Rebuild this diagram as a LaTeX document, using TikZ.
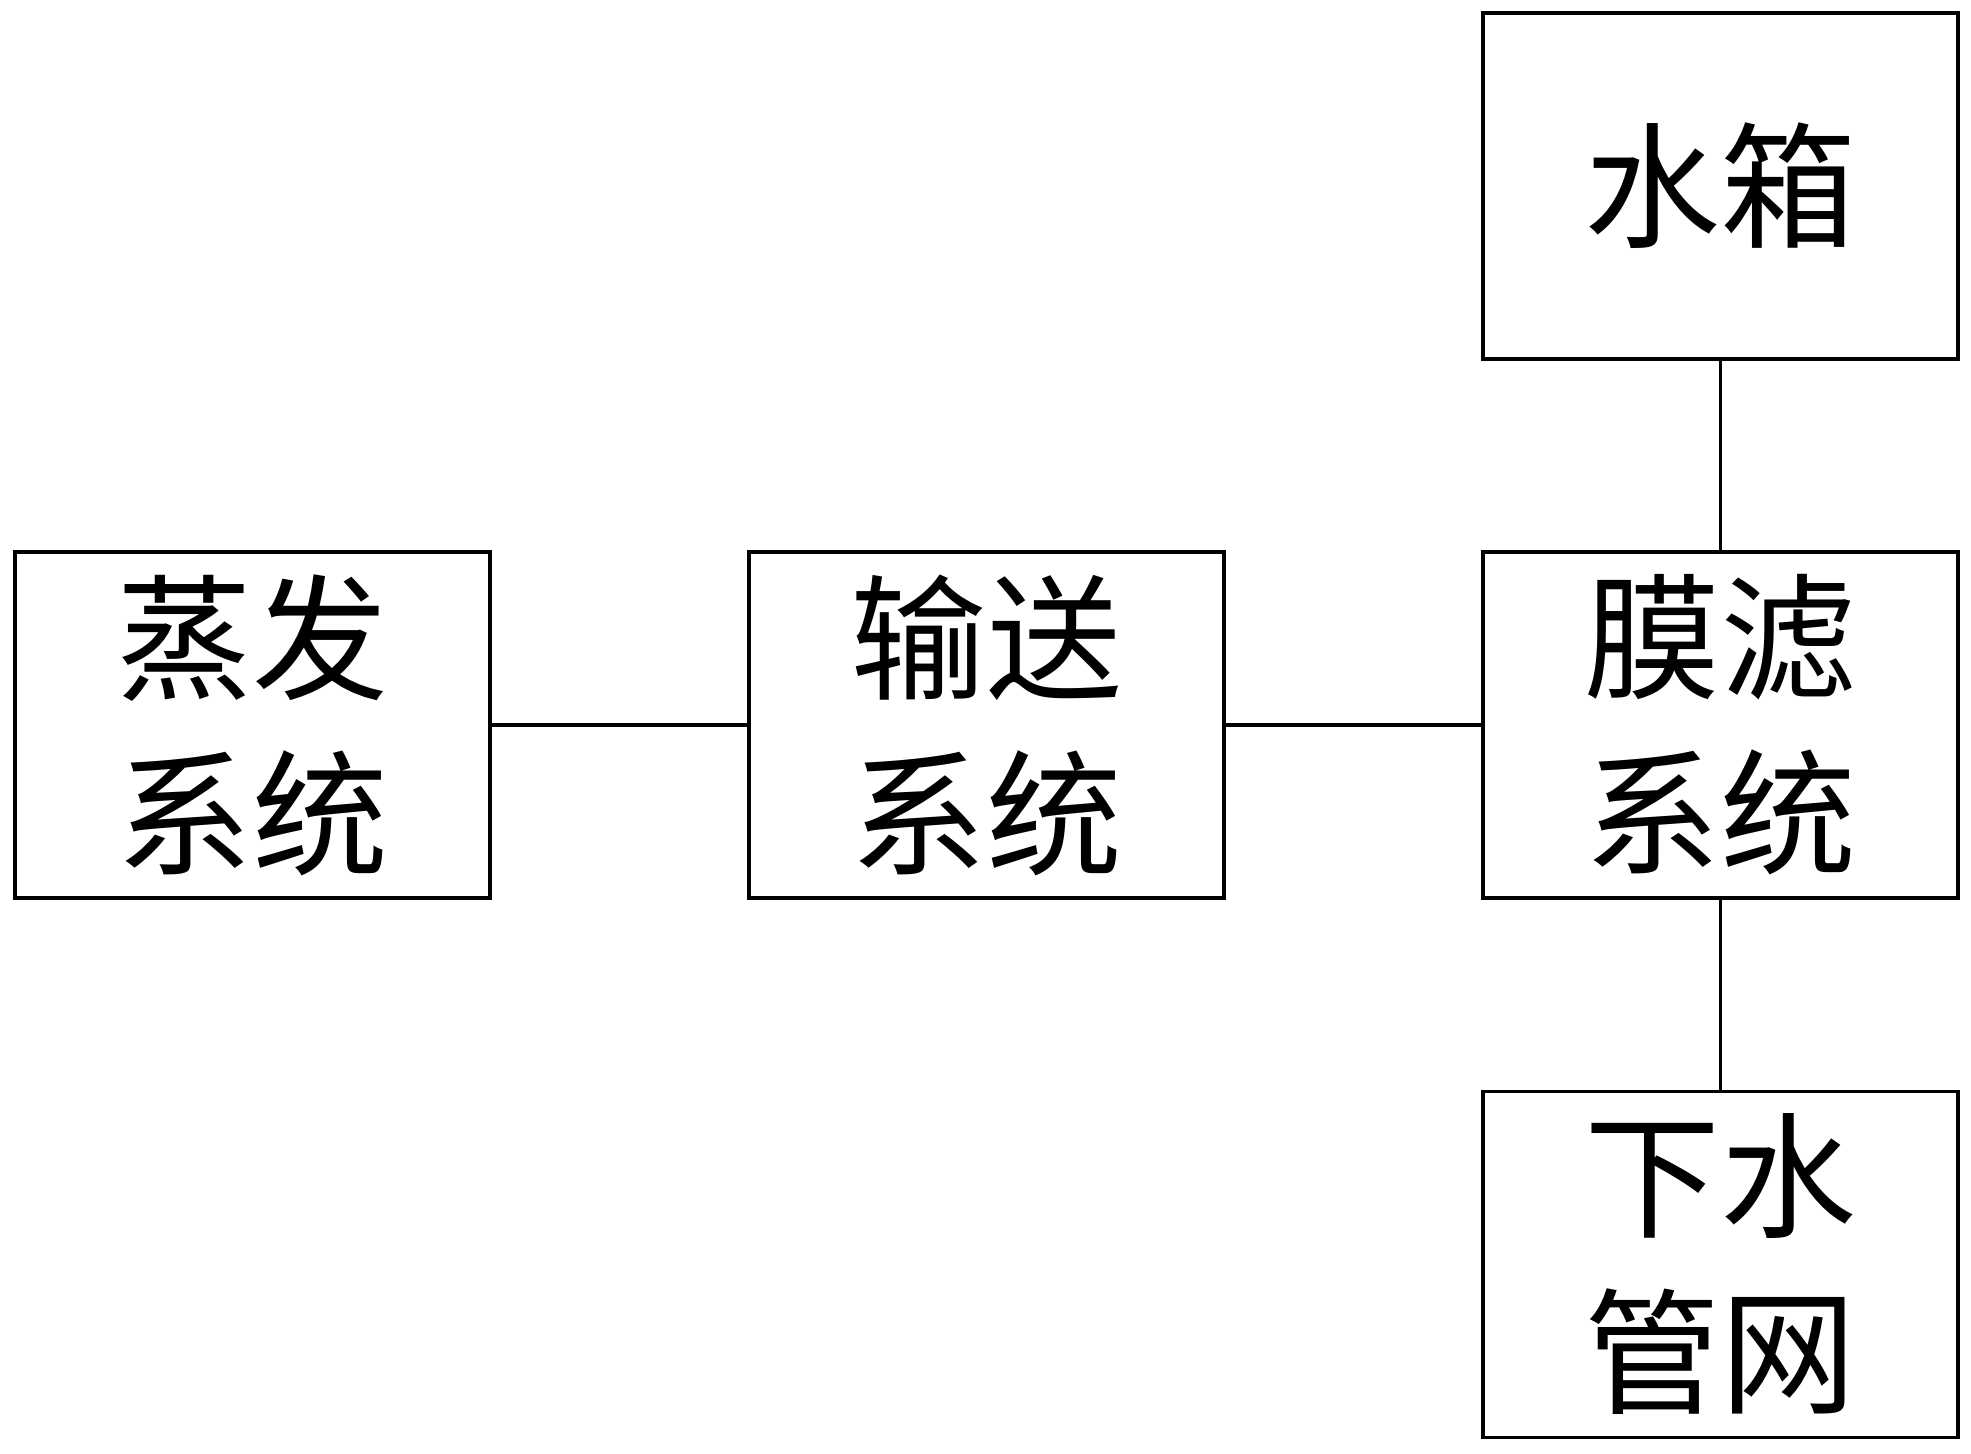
\documentclass[tikz,border=0pt]{standalone}
\usepackage{fontspec}
\newfontfamily\cjk{Noto Sans CJK SC}
\begin{document}
\begin{tikzpicture}[x=0.5pt,y=-0.5pt,
  blockbox/.style={draw=black, line width=1.6pt, minimum width=237.5pt, minimum height=173pt,
    inner sep=0pt, align=center, font=\cjk\fontsize{68pt}{88pt}\selectfont},
  link/.style={draw=black, line width=1.6pt}]
\useasboundingbox (0,0) rectangle (1971,1453);
\node[blockbox] (evap) at (252.5,725) {蒸发\\系统};
\node[blockbox] (trans) at (986.5,725) {输送\\系统};
\node[blockbox] (memb) at (1720.5,725) {膜滤\\系统};
\node[blockbox] (tank) at (1720.5,186) {水箱};
\node[blockbox] (sewer) at (1720.5,1264.5) {下水\\管网};
\draw[link] (evap) -- (trans);
\draw[link] (trans) -- (memb);
\draw[link] (tank) -- (memb);
\draw[link] (memb) -- (sewer);
\end{tikzpicture}
\end{document}
